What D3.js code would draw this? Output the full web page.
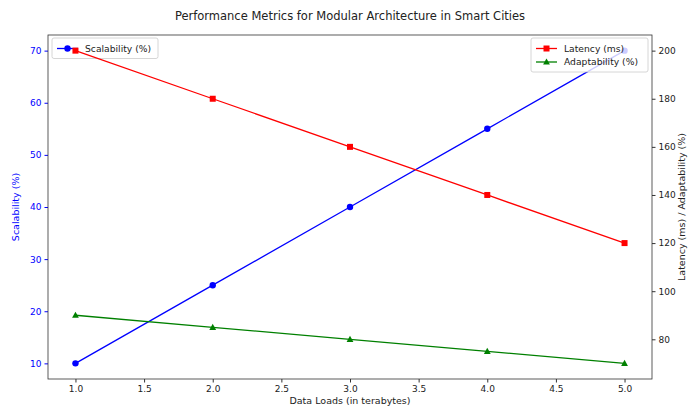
<!DOCTYPE html>
<html><head><meta charset="utf-8">
<script src="https://cdn.jsdelivr.net/npm/d3@7"></script>
<style>body{margin:0;background:#fff}svg{display:block}text{font-family:"DejaVu Sans",sans-serif}</style>
</head><body><svg id="c" width="689" height="410"></svg>
<script>
const dataLoads = [1.0, 2.0, 3.0, 4.0, 5.0];
const scalability = [10, 25, 40, 55, 70];
const latency = [200, 180, 160, 140, 120];
const adaptability = [90, 85, 80, 75, 70];
const xTicks = [1.0, 1.5, 2.0, 2.5, 3.0, 3.5, 4.0, 4.5, 5.0];
const leftTicks = [10, 20, 30, 40, 50, 60, 70];
const rightTicks = [80, 100, 120, 140, 160, 180, 200];

const svg = d3.select("#c");
const L = 48, R = 652, T = 35, B = 379;
const x = d3.scaleLinear().domain([0.8, 5.2]).range([L, R]);
const yL = d3.scaleLinear().domain([7, 73]).range([B, T]);
const yR = d3.scaleLinear().domain([63.5, 206.5]).range([B, T]);

svg.append("text").attr("x", (L+R)/2).attr("y", 20).attr("text-anchor","middle")
  .attr("font-size", 11.5).attr("fill","#222").text("Performance Metrics for Modular Architecture in Smart Cities");

const ax = svg.append("g").attr("transform",`translate(0,${B})`)
  .call(d3.axisBottom(x).tickValues(xTicks).tickFormat(d3.format(".1f")).tickSize(3.5).tickPadding(3));
const axL = svg.append("g").attr("transform",`translate(${L},0)`)
  .call(d3.axisLeft(yL).tickValues(leftTicks).tickSize(3.5).tickPadding(3));
const axR = svg.append("g").attr("transform",`translate(${R},0)`)
  .call(d3.axisRight(yR).tickValues(rightTicks).tickSize(3.5).tickPadding(3));
[ax, axL, axR].forEach(g => { g.select(".domain").remove(); g.selectAll("text").attr("font-size", 9).attr("font-family","DejaVu Sans"); g.selectAll("line").attr("stroke","#333"); });
ax.selectAll("text").attr("fill","#222");
axR.selectAll("text").attr("fill","#222");
axL.selectAll("text").attr("fill","blue");
axL.selectAll("line").attr("stroke","blue");

svg.append("rect").attr("x",L).attr("y",T).attr("width",R-L).attr("height",B-T)
  .attr("fill","none").attr("stroke","#333").attr("stroke-width",0.8);

svg.append("text").attr("x",(L+R)/2).attr("y",404).attr("text-anchor","middle").attr("font-size",9.5).attr("fill","#222").text("Data Loads (in terabytes)");
svg.append("text").attr("transform",`translate(19,${(T+B)/2}) rotate(-90)`).attr("text-anchor","middle").attr("font-size",9.5).attr("fill","blue").text("Scalability (%)");
svg.append("text").attr("transform",`translate(685,${(T+B)/2}) rotate(-90)`).attr("text-anchor","middle").attr("font-size",9.5).attr("fill","#222").text("Latency (ms) / Adaptability (%)");

function marker(g, type, color, cx, cy) {
  if (type === "circle") g.append("circle").attr("cx",cx).attr("cy",cy).attr("r",3.2).attr("fill",color);
  else if (type === "square") g.append("rect").attr("x",cx-3).attr("y",cy-3).attr("width",6).attr("height",6).attr("fill",color);
  else g.append("path").attr("d",`M${cx},${cy-3.6}L${cx+3.4},${cy+2.6}L${cx-3.4},${cy+2.6}Z`).attr("fill",color);
}
function series(vals, scale, color, type) {
  const g = svg.append("g");
  g.append("path").datum(vals).attr("fill","none").attr("stroke",color).attr("stroke-width",1.3)
    .attr("d", d3.line().x((d,i)=>x(dataLoads[i])).y(d=>scale(d)));
  vals.forEach((d,i)=>marker(g, type, color, x(dataLoads[i]), scale(d)));
}
function legend(items, lx, ly, w) {
  const g = svg.append("g");
  g.append("rect").attr("x",lx).attr("y",ly).attr("width",w).attr("height",items.length*13.5+7).attr("rx",2)
    .attr("fill","white").attr("fill-opacity",0.8).attr("stroke","#ccc").attr("stroke-width",0.8);
  items.forEach((it,i)=>{
    const cy = ly + 10.5 + i*13.5;
    g.append("line").attr("x1",lx+5).attr("x2",lx+26).attr("y1",cy).attr("y2",cy).attr("stroke",it.color).attr("stroke-width",1.3);
    marker(g, it.type, it.color, lx+15.5, cy);
    g.append("text").attr("x",lx+33).attr("y",cy+3.3).attr("font-size",9.2).attr("fill","#222").text(it.label);
  });
}

series(scalability, yL, "blue", "circle");
legend([{label:"Scalability (%)", color:"blue", type:"circle"}], 52, 38, 106);
series(latency, yR, "red", "square");
series(adaptability, yR, "green", "triangle");
legend([{label:"Latency (ms)", color:"red", type:"square"},{label:"Adaptability (%)", color:"green", type:"triangle"}], 531, 38, 117);
</script></body></html>
